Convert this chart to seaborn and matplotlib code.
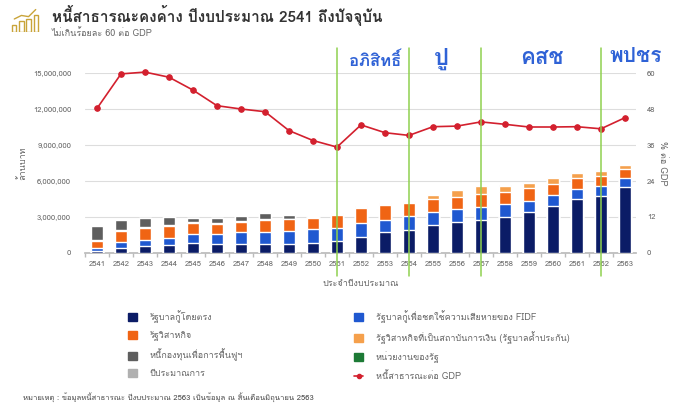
import numpy as np
import pandas as pd
import seaborn as sns
from matplotlib import pyplot as plt
from matplotlib import font_manager
from matplotlib.ft2font import FT2Font
from matplotlib.patches import Patch
from matplotlib.lines import Line2D
from matplotlib.ticker import FuncFormatter, FixedLocator

# --- data (million baht / % of GDP) ---
years = [str(y) for y in range(2541, 2564)]
gov_direct = [0.20, 0.39, 0.55, 0.69, 0.80, 0.78, 0.78, 0.78, 0.78, 0.83, 0.97, 1.36,
              1.72, 1.94, 2.33, 2.58, 2.78, 3.03, 3.44, 3.94, 4.47, 4.72, 5.50]
gov_fidf = [0.22, 0.50, 0.50, 0.53, 0.78, 0.78, 0.97, 0.97, 1.08, 1.14, 1.08, 1.14,
            1.06, 1.11, 1.08, 1.08, 1.06, 1.03, 0.89, 0.86, 0.83, 0.83, 0.72]
soe = [0.60, 0.92, 1.03, 1.00, 0.89, 0.86, 0.83, 1.00, 0.94, 0.97, 1.10, 1.22,
       1.19, 1.14, 1.06, 1.03, 1.11, 1.03, 1.06, 0.97, 0.97, 0.89, 0.81]
soe_fin = [0.03, 0.08, 0.08, 0.08, 0.08, 0.08, 0.10, 0.08, 0.05, 0.05, 0.08, 0.08,
           0.08, 0.08, 0.33, 0.58, 0.61, 0.53, 0.47, 0.44, 0.36, 0.36, 0.28]
fidf_fund = [1.17, 0.83, 0.72, 0.69, 0.39, 0.44, 0.44, 0.47, 0.30, 0.10, 0.08, 0.08,
             0.11, 0.08, 0, 0, 0, 0, 0, 0, 0, 0, 0]
agencies = [0, 0, 0, 0, 0, 0, 0, 0, 0, 0, 0, 0, 0, 0, 0, 0, 0, 0.03, 0, 0, 0, 0, 0]
forecast = [0] * 23
debt_gdp = [48.2, 59.7, 60.3, 58.6, 54.3, 49.1, 48.0, 47.1, 40.8, 37.5, 35.3, 42.7,
            40.1, 39.2, 42.1, 42.3, 43.7, 42.9, 42.0, 42.0, 42.1, 41.4, 45.1]

series_labels = ["รัฐบาลกู้โดยตรง", "รัฐบาลกู้เพื่อชดใช้ความเสียหายของ FIDF", "รัฐวิสาหกิจ",
                 "รัฐวิสาหกิจที่เป็นสถาบันการเงิน (รัฐบาลค้ำประกัน)", "หนี้กองทุนเพื่อการฟื้นฟูฯ",
                 "หน่วยงานของรัฐ", "ปีประมาณการ"]
line_label = "หนี้สาธารณะต่อ GDP"
terms = ["อภิสิทธิ์", "ปู", "คสช", "พปชร"]
term_years = ["2551", "2554", "2557", "2562"]

colors = ["#0b1c66", "#1f58d0", "#f06414", "#f5a04c", "#5e5e5e", "#1d7a35", "#b0b0b0"]
red = "#d3202e"
green = "#8fd14f"
blue_txt = "#2f62d6"
grey_txt = "#666666"


def thai_family():
    for f in font_manager.fontManager.ttflist:
        try:
            if ord("ก") in FT2Font(f.fname).get_charmap():
                return f.name
        except Exception:
            pass
    return "DejaVu Sans"


sns.set_theme(style="white")
TH = thai_family()
plt.rcParams["font.family"] = [TH, "DejaVu Sans"]

W, H = 680, 412
fig = plt.figure(figsize=(W / 100, H / 100), dpi=100)


def fx(px):
    return px / W


def fy(py):
    return 1 - py / H


ax = fig.add_axes([fx(85), fy(253), (636 - 85) / W, 180 / H])

layers = [np.array(v) * 1e6 for v in
          [gov_direct, gov_fidf, soe, soe_fin, fidf_fund, agencies, forecast]]
cum = np.cumsum(layers, axis=0)
# draw from the top layer down so each shorter bar covers the lower part
for i in range(len(layers) - 1, -1, -1):
    df = pd.DataFrame({"year": years, "value": cum[i]})
    sns.barplot(data=df, x="year", y="value", color=colors[i], width=0.5,
                saturation=1, errorbar=None, ax=ax, zorder=3)

ax.set_xlim(-0.5, 22.46)
ax.set_ylim(0, 15e6)
ax.set_yticks(np.arange(0, 15e6 + 1, 3e6))
ax.yaxis.set_major_formatter(FuncFormatter(lambda v, p: f"{int(v):,}"))
ax.grid(axis="y", color="#dddddd", linewidth=0.8, zorder=0)
ax.grid(axis="x", visible=False)
for s in ["top", "right", "left"]:
    ax.spines[s].set_visible(False)
ax.spines["bottom"].set_color("#bbbbbb")
ax.tick_params(axis="x", length=0, labelsize=5.5, colors=grey_txt, pad=6)
ax.tick_params(axis="y", length=0, labelsize=5.5, colors=grey_txt, pad=10)
ax.xaxis.set_minor_locator(FixedLocator(np.arange(-0.5, 23, 1)))
ax.tick_params(axis="x", which="minor", length=3, color="#bbbbbb", bottom=True)
ax.set_xlabel("ประจำปีงบประมาณ", fontsize=6.5, color=grey_txt, labelpad=8)
ax.set_ylabel("ล้านบาท", fontsize=6.5, color=grey_txt, labelpad=4)

ax2 = ax.twinx()
sns.lineplot(x=np.arange(len(years)), y=debt_gdp, color=red, marker="o",
             markersize=4, markeredgecolor=red, linewidth=1.2, ax=ax2, clip_on=False)
ax2.set_ylim(0, 60)
ax2.set_yticks(np.arange(0, 61, 12))
ax2.grid(False)
for s in ax2.spines.values():
    s.set_visible(False)
ax2.tick_params(axis="y", length=0, labelsize=5.5, colors=grey_txt, pad=8)
ax2.set_ylabel("% ต่อ GDP", fontsize=6.5, color=grey_txt, rotation=-90, labelpad=8)

# term markers
for name, yr in zip(terms, term_years):
    ax2.axvline(years.index(yr), ymin=-0.13, ymax=1.14, color=green,
                linewidth=1.1, clip_on=False, zorder=5)

fig.text(fx(375), fy(60), terms[0], fontsize=12, color=blue_txt, ha="center", va="center", weight="bold")
fig.text(fx(441), fy(58), terms[1], fontsize=17, color=blue_txt, ha="center", va="center", weight="bold")
fig.text(fx(542), fy(58), terms[2], fontsize=16, color=blue_txt, ha="center", va="center", weight="bold")
fig.text(fx(636), fy(57), terms[3], fontsize=15, color=blue_txt, ha="center", va="center", weight="bold")

# title + icon
fig.text(fx(52), fy(16), "หนี้สาธารณะคงค้าง ปีงบประมาณ 2541 ถึงปัจจุบัน", fontsize=11,
         weight="bold", color="#333333", va="center")
fig.text(fx(52), fy(33), "ไม่เกินร้อยละ 60 ต่อ GDP", fontsize=6.5, color=grey_txt, va="center")
icon = fig.add_axes([fx(10), fy(32), 30 / W, 26 / H])
icon.bar([0, 1, 2, 3], [0.3, 0.45, 0.55, 0.7], width=0.6, fill=False,
         edgecolor="#c9a43a", linewidth=1)
icon.plot([0, 1, 2, 3], [0.55, 0.7, 0.65, 0.95], color="#c9a43a", linewidth=1)
icon.set_xlim(-0.6, 3.6)
icon.set_ylim(0, 1.1)
icon.axis("off")

# legend
handles = [Patch(color=colors[i]) for i in range(7)]
line_h = Line2D([], [], color=red, marker="o", markersize=3, linewidth=1.2)
order_h = [handles[0], handles[2], handles[4], handles[6], handles[1], handles[3], handles[5], line_h]
order_l = [series_labels[0], series_labels[2], series_labels[4], series_labels[6],
           series_labels[1], series_labels[3], series_labels[5], line_label]
fig.legend(order_h, order_l, ncol=2, loc="upper left", bbox_to_anchor=(fx(120), fy(302)),
           frameon=False, fontsize=6.5, handlelength=1.0, handleheight=1.0,
           columnspacing=12.3, labelspacing=0.88, handletextpad=1.4, labelcolor=grey_txt)

fig.text(fx(23), fy(397), "หมายเหตุ : ข้อมูลหนี้สาธารณะ ปีงบประมาณ 2563 เป็นข้อมูล ณ สิ้นเดือนมิถุนายน 2563",
         fontsize=5.5, color="#444444", va="center")

fig.savefig("out.png", dpi=100)
